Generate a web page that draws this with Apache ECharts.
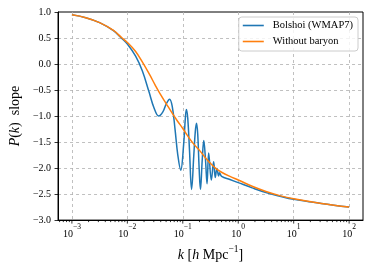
<!DOCTYPE html>
<html><head><meta charset="utf-8">
<script src="https://cdn.jsdelivr.net/npm/echarts@6/dist/echarts.min.js"></script>
<style>html,body{margin:0;padding:0;background:#fff}#c{width:374px;height:267px}</style>
</head><body><div id="c"></div>
<script>
const seriesNames = ['Bolshoi (WMAP7)', 'Without baryon'];

const bolshoiK = [0.001, 0.00178, 0.00316, 0.00562, 0.00794, 0.01, 0.0141, 0.0186, 0.0245, 0.0302,
  0.0368, 0.0437, 0.0501, 0.0578, 0.0646, 0.0724, 0.0813, 0.0918, 0.1035, 0.111,
  0.116, 0.123, 0.132, 0.144, 0.158, 0.168, 0.177, 0.186, 0.197, 0.208,
  0.224, 0.239, 0.257, 0.274, 0.293, 0.327, 0.360, 0.385, 0.413, 0.442,
  0.460, 0.501, 0.708, 1, 1.78, 3.16, 5.62, 10, 31.6, 100];
const bolshoiSlope = [0.945, 0.89, 0.795, 0.64, 0.49, 0.385, 0.15, -0.13, -0.53, -0.84,
  -1.0, -0.92, -0.77, -0.675, -0.82, -1.25, -1.75, -2.04, -1.55, -1.05,
  -0.876, -1.05, -1.65, -2.41, -1.75, -1.30, -1.14, -1.35, -2.0, -2.41,
  -1.85, -1.47, -1.85, -2.30, -1.71, -2.23, -1.88, -2.18, -2.01, -2.15,
  -2.09, -2.16, -2.22, -2.28, -2.38, -2.47, -2.54, -2.60, -2.68, -2.75];

const noBaryonK = [0.001, 0.00178, 0.00316, 0.00562, 0.00794, 0.01, 0.0141, 0.0186, 0.0251, 0.0316,
  0.0398, 0.0501, 0.0631, 0.0794, 0.1, 0.126, 0.158, 0.2, 0.251, 0.316,
  0.398, 0.501, 0.708, 1, 1.78, 3.16, 5.62, 10, 31.6, 100];
const noBaryonSlope = [0.945, 0.89, 0.795, 0.645, 0.505, 0.415, 0.24, 0.04, -0.2, -0.40,
  -0.59, -0.76, -0.93, -1.09, -1.24, -1.40, -1.54, -1.66, -1.79, -1.91,
  -2.01, -2.08, -2.16, -2.23, -2.35, -2.45, -2.53, -2.59, -2.68, -2.75];

const xMajorTicks = [0.001, 0.01, 0.1, 1, 10, 100];
const xMinorTicks = [6e-4, 7e-4, 8e-4, 9e-4,
  0.002, 0.003, 0.004, 0.005, 0.006, 0.007, 0.008, 0.009,
  0.02, 0.03, 0.04, 0.05, 0.06, 0.07, 0.08, 0.09,
  0.2, 0.3, 0.4, 0.5, 0.6, 0.7, 0.8, 0.9,
  2, 3, 4, 5, 6, 7, 8, 9,
  20, 30, 40, 50, 60, 70, 80, 90];

const xMin = Math.pow(10, -3.25), xMax = Math.pow(10, 2.25);
const yMin = -3, yMax = 1, yStep = 0.5;

const F = '"Liberation Serif", "Times New Roman", serif';
const MINUS = '\u2212';

function pairs(ks, vs) { return ks.map((k, i) => [k, vs[i]]); }
function tickSeries(vals, len) {
  return {
    type: 'custom', silent: true, clip: false, z: 10,
    data: vals.map(k => [k, yMin]),
    renderItem: (params, api) => {
      const p = api.coord([api.value(0), yMin]);
      return { type: 'line', shape: { x1: p[0], y1: p[1], x2: p[0], y2: p[1] + len },
        style: { stroke: '#000', lineWidth: 0.8 } };
    }
  };
}
const gridLine = { show: true, showMinLine: false, showMaxLine: false,
  lineStyle: { color: '#b0b0b0', width: 0.8, type: [3, 3] } };

const chart = echarts.init(document.getElementById('c'), null, { renderer: 'canvas' });
chart.setOption({
  animation: false,
  backgroundColor: '#fff',
  grid: { left: 54, top: 12, width: 309, height: 212, show: true, borderColor: '#000', borderWidth: 1, backgroundColor: 'transparent' },
  legend: {
    data: seriesNames, orient: 'vertical', right: 16, top: 17,
    icon: 'rect', itemWidth: 21, itemHeight: 1.6, itemGap: 3,
    padding: [2, 5, 3, 4],
    backgroundColor: 'rgba(255,255,255,0.8)', borderColor: '#cccccc', borderWidth: 1, borderRadius: 3,
    textStyle: { fontFamily: F, fontSize: 10.5, color: '#000', lineHeight: 13, padding: [0, 0, 0, 4] }
  },
  xAxis: {
    type: 'log', logBase: 10, min: xMin, max: xMax,
    axisLine: { show: true, onZero: false, lineStyle: { color: '#000', width: 1 } },
    axisTick: { show: false },
    splitLine: gridLine,
    axisLabel: {
      showMinLabel: false, showMaxLabel: false, margin: 3, color: '#000',
      formatter: v => { const e = Math.round(Math.log10(v)); return '{b|10}{s|' + (e < 0 ? MINUS : '') + Math.abs(e) + '}'; },
      rich: {
        b: { fontFamily: F, fontSize: 10, lineHeight: 16, verticalAlign: 'bottom', color: '#000' },
        s: { fontFamily: F, fontSize: 7.5, lineHeight: 8, verticalAlign: 'top', color: '#000' }
      }
    },
    name: '{i|k}{r| [}{i|h}{r| Mpc}{s|' + MINUS + '1}{r|]}',
    nameLocation: 'middle', nameGap: 15,
    nameTextStyle: {
      rich: {
        i: { fontFamily: F, fontSize: 14, fontStyle: 'italic', lineHeight: 18, verticalAlign: 'bottom', color: '#000' },
        r: { fontFamily: F, fontSize: 14, lineHeight: 18, verticalAlign: 'bottom', color: '#000' },
        s: { fontFamily: F, fontSize: 9.5, lineHeight: 10, verticalAlign: 'top', color: '#000' }
      }
    }
  },
  yAxis: {
    type: 'value', min: yMin, max: yMax, interval: yStep,
    axisLine: { show: true, onZero: false, lineStyle: { color: '#000', width: 1 } },
    axisTick: { show: true, inside: false, length: 3.5, lineStyle: { color: '#000', width: 0.8 } },
    splitLine: gridLine,
    axisLabel: { margin: 7, color: '#000', fontFamily: F, fontSize: 10,
      formatter: v => (v < 0 ? MINUS : '') + Math.abs(v).toFixed(1) },
    name: '{i|P}{r|(}{i|k}{r|)  slope}',
    nameLocation: 'middle', nameGap: 32,
    nameTextStyle: {
      rich: {
        i: { fontFamily: F, fontSize: 14, fontStyle: 'italic', color: '#000' },
        r: { fontFamily: F, fontSize: 14, color: '#000' }
      }
    }
  },
  series: [
    { name: seriesNames[0], type: 'line', data: pairs(bolshoiK, bolshoiSlope), showSymbol: false, smooth: 0.4,
      color: '#1f77b4', lineStyle: { color: '#1f77b4', width: 1.5 }, emphasis: { disabled: true }, z: 3 },
    { name: seriesNames[1], type: 'line', data: pairs(noBaryonK, noBaryonSlope), showSymbol: false, smooth: 0.4,
      color: '#ff7f0e', lineStyle: { color: '#ff7f0e', width: 1.5 }, emphasis: { disabled: true }, z: 4 },
    tickSeries(xMajorTicks, 3.5),
    tickSeries(xMinorTicks, 2)
  ]
});
</script></body></html>
